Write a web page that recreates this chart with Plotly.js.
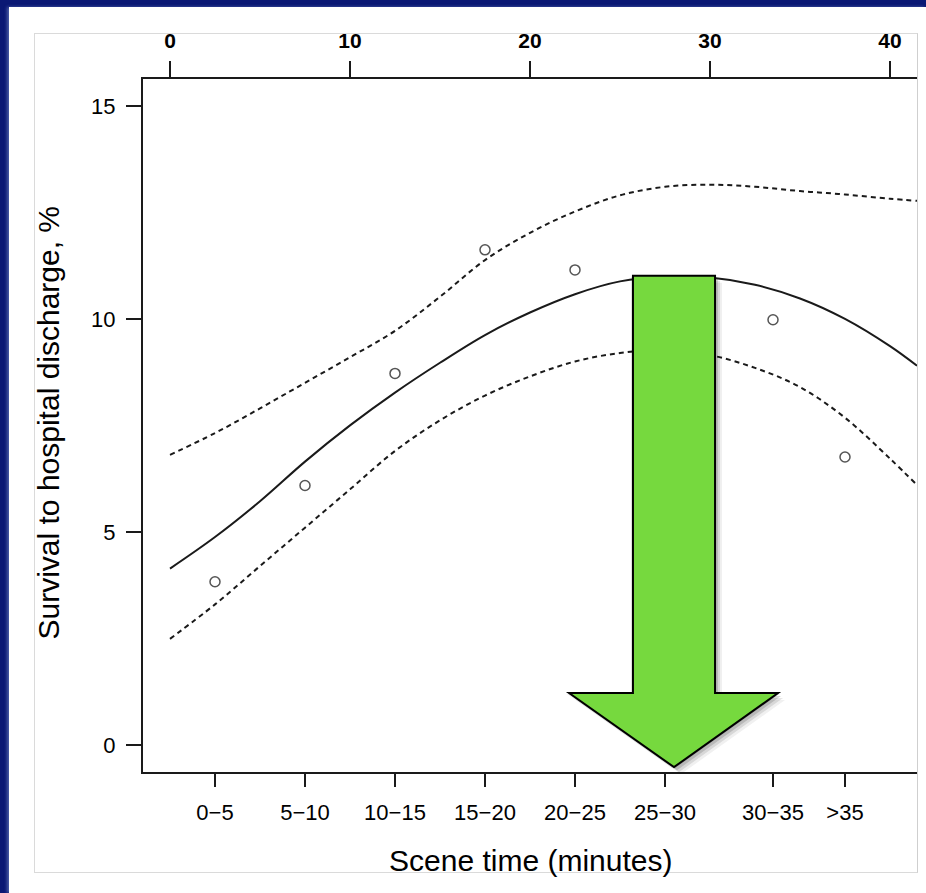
<!DOCTYPE html>
<html>
<head>
<meta charset="utf-8">
<script src="https://cdn.plot.ly/plotly-3.0.1.min.js"></script>
<style>
  html, body { margin:0; padding:0; width:926px; height:893px; overflow:hidden; background:#0b1874; }
  #panel { position:absolute; left:9px; top:7px; width:917px; height:886px; background:#ffffff;
           box-shadow: -2px 0 3px rgba(120,140,200,0.6); }
  #frame { position:absolute; left:34px; top:33px; width:882px; height:838px; border:1px solid #dadada; border-right:1.5px solid #cfcfcf; }
  #chart { position:absolute; left:0; top:0; width:926px; height:893px; }
</style>
</head>
<body>
<div id="panel"></div>
<div id="frame"></div>
<div id="chart"></div>
<script>
// ---- data ----
const topTicks = [0, 10, 20, 30, 40];
const categories = ['0−5', '5−10', '10−15', '15−20', '20−25', '25−30', '30−35', '>35'];
const categoryX = [2.5, 7.5, 12.5, 17.5, 22.5, 27.5, 33.5, 37.5];
const yTicks = [0, 5, 10, 15];

const pointCats = ['0−5', '5−10', '10−15', '15−20', '20−25', '30−35', '>35'];
const pointY = [3.83, 6.09, 8.72, 11.62, 11.15, 9.98, 6.76];

const curveX = [0, 2.5, 5, 7.5, 10, 12.5, 15, 17.5, 20, 22.5, 25, 27.5, 30, 32.5, 35, 37.5, 40, 41.5];
const fitY   = [4.14, 4.88, 5.72, 6.65, 7.5, 8.27, 8.97, 9.62, 10.15, 10.58, 10.88, 10.99, 10.97, 10.8, 10.48, 10.0, 9.36, 8.9];
const upperY = [6.81, 7.32, 7.9, 8.5, 9.1, 9.72, 10.52, 11.38, 12.02, 12.52, 12.9, 13.1, 13.15, 13.1, 13.0, 12.92, 12.82, 12.77];
const lowerY = [2.49, 3.3, 4.2, 5.1, 6.0, 6.9, 7.62, 8.2, 8.65, 9.0, 9.2, 9.27, 9.15, 8.85, 8.4, 7.68, 6.72, 6.1];

// arrow (annotation graphic, in axis units)
const arrowShaftLeft = 25.72, arrowShaftRight = 30.28, arrowTop = 11.01;
const arrowShoulder = 1.22, arrowHeadLeft = 22.17, arrowHeadRight = 33.78;
const arrowTipX = 28.0, arrowTipY = -0.52;

const xRange = [-1.5, 41.5];
const yRange = [-0.634, 15.63];

const fontFam = 'Liberation Sans, Arial, sans-serif';
const ink = '#1a1a1a';

const pointX = pointCats.map(c => categoryX[categories.indexOf(c)]);

function arrowPath(dx, dy) {
  const p = [
    [arrowShaftLeft, arrowTop], [arrowShaftRight, arrowTop], [arrowShaftRight, arrowShoulder],
    [arrowHeadRight, arrowShoulder], [arrowTipX, arrowTipY], [arrowHeadLeft, arrowShoulder],
    [arrowShaftLeft, arrowShoulder]
  ];
  return p.map((q, i) => (i ? 'L' : 'M') + (q[0] + dx) + ',' + (q[1] + dy)).join(' ') + ' Z';
}
const pxX = (xRange[1] - xRange[0]) / 774, pxY = (yRange[1] - yRange[0]) / 693;
const shadows = [[1, 1, 0.18], [3, 3, 0.14], [5, 5, 0.1], [7, 7, 0.06], [-2, 1, 0.08]].map(s => ({
  type: 'path', xref: 'x', yref: 'y', layer: 'above',
  path: arrowPath(s[0] * pxX, -s[1] * pxY), fillcolor: 'rgba(0,0,0,' + s[2] + ')', line: { width: 0 }
}));

const traces = [
  { x: curveX, y: upperY, xaxis: 'x2', yaxis: 'y', mode: 'lines', hoverinfo: 'skip',
    line: { color: ink, width: 2, dash: '5px,4px', shape: 'spline', smoothing: 1 } },
  { x: curveX, y: lowerY, xaxis: 'x2', yaxis: 'y', mode: 'lines', hoverinfo: 'skip',
    line: { color: ink, width: 2, dash: '5px,4px', shape: 'spline', smoothing: 1 } },
  { x: curveX, y: fitY, xaxis: 'x2', yaxis: 'y', mode: 'lines', hoverinfo: 'skip',
    line: { color: ink, width: 2, shape: 'spline', smoothing: 1 } },
  { x: pointX, y: pointY, xaxis: 'x', yaxis: 'y', mode: 'markers',
    marker: { symbol: 'circle-open', size: 10, color: '#555', line: { width: 1.5, color: '#555' } } }
];

const axisCommon = {
  showgrid: false, zeroline: false, showline: true, linecolor: ink, linewidth: 2,
  ticks: 'outside', tickcolor: ink, tickwidth: 1.5,
  tickfont: { family: fontFam, size: 22, color: '#000' }
};

const layout = {
  width: 926, height: 893,
  margin: { l: 143, r: 9, t: 79, b: 121, pad: 0 },
  paper_bgcolor: 'rgba(0,0,0,0)', plot_bgcolor: 'rgba(0,0,0,0)',
  showlegend: false,
  xaxis: Object.assign({}, axisCommon, {
    range: xRange, tickmode: 'array', tickvals: categoryX, ticktext: categories,
    ticklen: 13, ticklabelstandoff: 7, anchor: 'y', side: 'bottom'
  }),
  xaxis2: Object.assign({}, axisCommon, {
    range: xRange, tickmode: 'array', tickvals: topTicks, ticktext: topTicks.map(String),
    ticklen: 16, ticklabelstandoff: 5, overlaying: 'x', side: 'top', anchor: 'y',
    tickfont: { family: fontFam, size: 21, color: '#000', weight: 'bold' }
  }),
  yaxis: Object.assign({}, axisCommon, {
    range: yRange, tickmode: 'array', tickvals: yTicks, ticktext: yTicks.map(String),
    ticklen: 15, ticklabelstandoff: 6
  }),
  shapes: shadows.concat([{
    type: 'path', xref: 'x', yref: 'y', layer: 'above', path: arrowPath(0, 0),
    fillcolor: '#76d93e', line: { color: '#000', width: 2 }
  }]),
  annotations: [
    { text: 'Scene time (minutes)', xref: 'paper', yref: 'paper', x: 0.5, y: (772 - 861) / 693,
      xanchor: 'center', yanchor: 'middle', showarrow: false,
      font: { family: fontFam, size: 30, color: '#000' } },
    { text: 'Survival to hospital discharge, %', xref: 'paper', yref: 'paper', x: (48 - 143) / 774, y: 0.5 + 3 / 693,
      xanchor: 'center', yanchor: 'middle', textangle: -90, showarrow: false,
      font: { family: fontFam, size: 30, color: '#000' } }
  ]
};

Plotly.newPlot('chart', traces, layout, { staticPlot: true, displayModeBar: false });
</script>
</body>
</html>
